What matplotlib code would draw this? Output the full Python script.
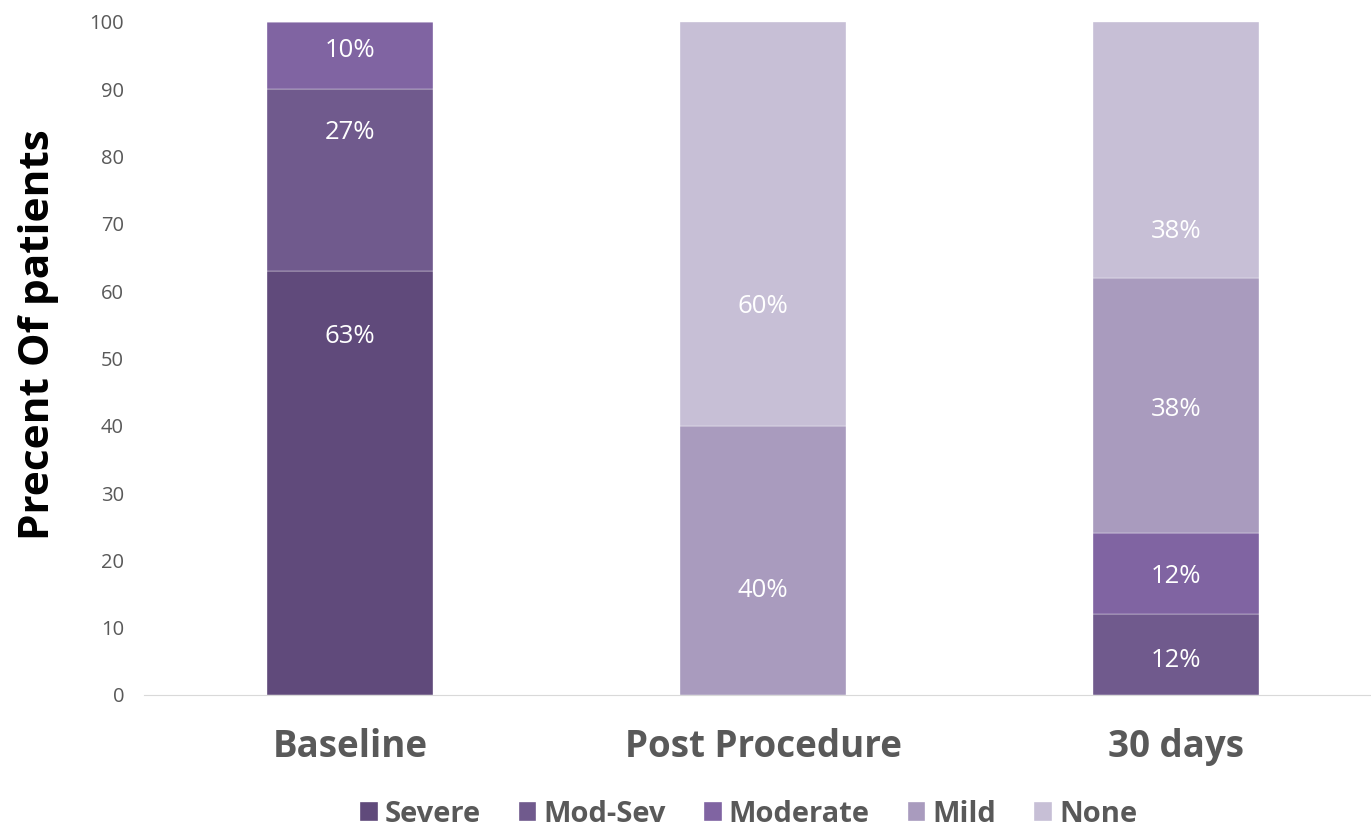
import matplotlib.pyplot as plt
import numpy as np

# stacked severity distribution per time point (percent of patients)
timepoints = ["Baseline", "Post Procedure", "30 days"]
grades = ["Severe", "Mod-Sev", "Moderate", "Mild", "None"]
severe = [63, 0, 0]
mod_sev = [27, 0, 12]
moderate = [10, 0, 12]
mild = [0, 40, 38]
none = [0, 60, 38]
y_ticks = [0, 10, 20, 30, 40, 50, 60, 70, 80, 90, 100]

colors = ["#604a7b", "#705a8d", "#8064a2", "#a99bbe", "#c7bfd6"]
# where each value label sits inside its segment (y in data units)
label_y = {
    (0, 0): 53.3, (0, 1): 83.6, (0, 2): 95.7,
    (1, 3): 15.5, (1, 4): 57.7,
    (2, 1): 5.1, (2, 2): 17.6, (2, 3): 42.4, (2, 4): 68.8,
}

plt.rcParams['font.family'] = ['Open Sans', 'DejaVu Sans']

fig = plt.figure(figsize=(13.71, 8.30), dpi=100)
ax = fig.add_axes([0.1047, 0.1627, 0.9037, 0.8108])

series = [severe, mod_sev, moderate, mild, none]
x = np.arange(len(timepoints))
bottom = np.zeros(len(timepoints))
for j, (name, vals, col) in enumerate(zip(grades, series, colors)):
    vals = np.array(vals, dtype=float)
    ax.bar(x, vals, width=0.4, bottom=bottom, color=col, label=name,
           edgecolor="white", linewidth=0.25)
    for i, v in enumerate(vals):
        if v > 0:
            ax.text(x[i], label_y.get((i, j), bottom[i] + v / 2), f"{int(v)}%",
                    ha="center", va="center", color="white", fontsize=18.5)
    bottom += vals

ax.set_xlim(-0.5, 2.5)
ax.set_ylim(0, 100)
ax.set_yticks(y_ticks)
ax.set_xticks(x)
ax.set_xticklabels(timepoints, fontsize=26.5, fontweight="bold", color="#595959")
ax.tick_params(axis="y", length=0, labelsize=14.5, labelcolor="#595959", pad=14)
ax.tick_params(axis="x", length=0, pad=24)
for s in ["top", "right", "left"]:
    ax.spines[s].set_visible(False)
ax.spines["bottom"].set_color("#d9d9d9")

ax.set_ylabel("Precent Of patients", fontsize=30.5, fontweight="bold",
              color="black")
ax.yaxis.set_label_coords(-0.068, 0.536)

leg = fig.legend(loc="center", bbox_to_anchor=(0.546, 0.019), ncol=5,
                 frameon=False, handlelength=0.6,
                 handleheight=0.6, handletextpad=0.25, columnspacing=1.3,
                 prop={"weight": "bold", "size": 21})
for t in leg.get_texts():
    t.set_color("#595959")

fig.savefig("out.png", dpi=100)
